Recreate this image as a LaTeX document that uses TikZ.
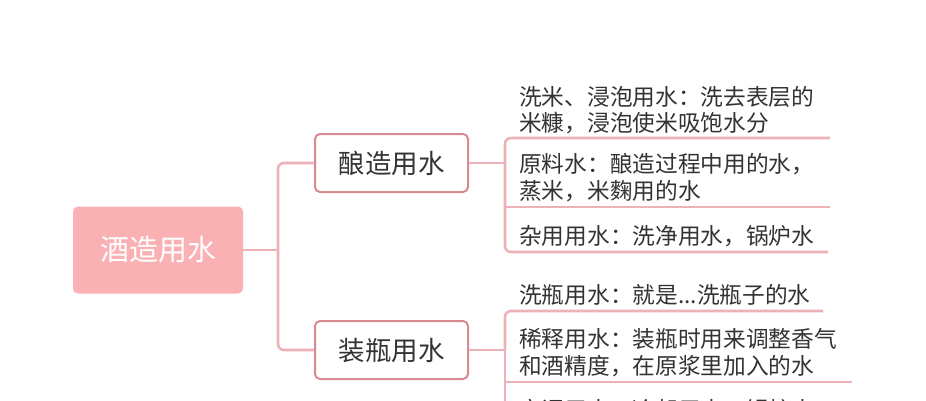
\documentclass[tikz,border=0pt]{standalone}
\usepackage{fontspec}
\setmainfont{Noto Sans CJK SC}
\definecolor{rootc}{HTML}{F9B1B4}
\definecolor{bordc}{HTML}{D98A90}
\definecolor{linec}{HTML}{EDB2B7}
\definecolor{txtc}{HTML}{333333}
\begin{document}
\begin{tikzpicture}[x=1pt,y=-1pt,
  conn/.style={draw=linec, line width=2.6pt, rounded corners=6pt},
  rootbox/.style={fill=rootc, rounded corners=5pt, minimum width=170pt, minimum height=87pt, inner sep=0pt, text=white, font=\fontsize{29}{33}\selectfont},
  topicbox/.style={draw=bordc, line width=2pt, fill=white, rounded corners=5pt, minimum width=153pt, minimum height=58pt, inner sep=0pt, text=txtc, font=\fontsize{26.5}{30}\selectfont},
  leaf/.style={anchor=west, inner sep=0pt, text=txtc, align=left, font=\fontsize{22.7}{26.5}\selectfont}]
\useasboundingbox (0,0) rectangle (926,400);
\clip (0,0) rectangle (926,400);
\fill[white] (0,0) rectangle (926,400);

% nodes
\node[rootbox] (root) at (158,250) {酒造用水};
\node[topicbox] (brew) at (391.5,163) {酿造用水};
\node[topicbox] (bottle) at (391.5,350) {装瓶用水};

\node[leaf] (c1) at (519,110) {洗米、浸泡用水：洗去表层的\\米糠，浸泡使米吸饱水分};
\node[leaf] (c2) at (519,177.5) {原料水：酿造过程中用的水，\\蒸米，米麴用的水};
\node[leaf] (c3) at (519,236) {杂用用水：洗净用水，锅炉水};
\node[leaf] (d1) at (519,295) {洗瓶用水：就是...洗瓶子的水};
\node[leaf] (d2) at (519,352.5) {稀释用水：装瓶时用来调整香气\\和酒精度，在原浆里加入的水};
\node[leaf] (d3) at (519,410) {空调用水：冷却用水，锅炉水};

% junction coordinates
\coordinate (rj) at (278,250);
\coordinate (bj) at (505,163);
\coordinate (pj) at (505,350);
\coordinate (c1e) at (830,138);
\coordinate (c2e) at (830,207);
\coordinate (c3e) at (828,252);
\coordinate (d1e) at (823,311);
\coordinate (d2e) at (852,382);
\coordinate (d3e) at (852,430);

% root connectors
\draw[conn] (root.east) -- (rj);
\draw[conn] (rj) |- (brew.west);
\draw[conn] (rj) |- (bottle.west);

% brew branch
\draw[conn] (brew.east) -- (bj);
\draw[conn] (c1e) -| (bj);
\draw[conn] (c3e) -| (bj);
\draw[conn] (bj |- c2e) -- (c2e);

% bottle branch
\draw[conn] (bottle.east) -- (pj);
\draw[conn] (d1e) -| (pj);
\draw[conn] (pj) -- (pj |- d3e);
\draw[conn] (pj |- d2e) -- (d2e);
\end{tikzpicture}
\end{document}
